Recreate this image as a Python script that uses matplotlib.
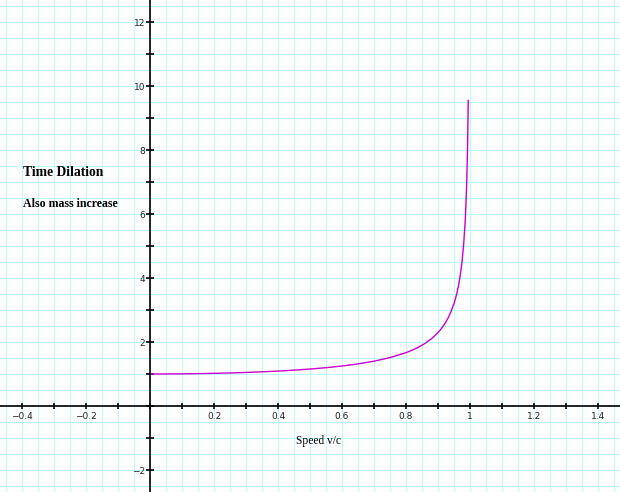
import matplotlib
matplotlib.use("Agg")
import matplotlib.pyplot as plt
from matplotlib.ticker import MultipleLocator, FuncFormatter

# Data: speed v/c and Lorentz factor
speed = [0.0, 0.05, 0.1, 0.15, 0.2, 0.25, 0.3, 0.35, 0.4, 0.45, 0.5, 0.55,
         0.6, 0.65, 0.7, 0.75, 0.8, 0.82, 0.84, 0.86, 0.88, 0.9, 0.91, 0.92,
         0.93, 0.94, 0.95, 0.955, 0.96, 0.965, 0.97, 0.975, 0.98, 0.985,
         0.9875, 0.99, 0.9925, 0.9945]
gamma = [1.0, 1.001, 1.005, 1.011, 1.021, 1.033, 1.048, 1.068, 1.091, 1.12,
         1.155, 1.197, 1.25, 1.316, 1.40, 1.512, 1.667, 1.747, 1.843, 1.96,
         2.105, 2.294, 2.412, 2.552, 2.721, 2.931, 3.203, 3.371, 3.571,
         3.815, 4.113, 4.502, 5.025, 5.783, 6.344, 7.089, 8.172, 9.55]

title_text = "Time Dilation"
subtitle_text = "Also mass increase"
xlabel_text = "Speed v/c"

fig = plt.figure(figsize=(6.2, 4.92), dpi=100)
ax = fig.add_axes([0, 0, 1, 1])
ax.set_xlim(-150 / 320, 470 / 320)
ax.set_ylim(-86 / 32, 406 / 32)

# grid
for v in [i * 0.05 for i in range(-10, 31)]:
    ax.axvline(v, color="#b6fdfd", lw=0.72, zorder=0, antialiased=False)
for v in [i * 0.5 for i in range(-6, 27)]:
    ax.axhline(v, color="#b6fdfd", lw=0.72, zorder=0, antialiased=False)

ax.plot(speed, gamma, color="#cc00cc", lw=1.0, zorder=3)

for s in ["top", "right"]:
    ax.spines[s].set_visible(False)
ax.spines["left"].set_position(("data", 0))
ax.spines["bottom"].set_position(("data", 0))
for s in ["left", "bottom"]:
    ax.spines[s].set_linewidth(1.2)
    ax.spines[s].set_color("black")
    ax.spines[s].set_zorder(4)

ax.xaxis.set_major_locator(MultipleLocator(0.2))
ax.xaxis.set_minor_locator(MultipleLocator(0.1))
ax.yaxis.set_major_locator(MultipleLocator(2))
ax.yaxis.set_minor_locator(MultipleLocator(1))

def fmt_x(v, pos):
    if abs(v) < 1e-9:
        return ""
    s = f"{v:.1f}"
    if s.endswith(".0"):
        s = s[:-2]
    return s.replace("-", "\u2212")

def fmt_y(v, pos):
    if abs(v) < 1e-9:
        return ""
    return f"{int(round(v))}".replace("-", "\u2212")

ax.xaxis.set_major_formatter(FuncFormatter(fmt_x))
ax.yaxis.set_major_formatter(FuncFormatter(fmt_y))
ax.tick_params(which="both", direction="inout", length=5, width=1.2,
               color="black", labelsize=6.5, labelcolor="#222222")
ax.tick_params(axis="x", which="both", length=5, pad=1.5)
ax.tick_params(axis="y", which="both", length=6, pad=0.5)

ax.text(23 / 320 - 150 / 320, (406 - 173) / 32, title_text,
        fontfamily="Liberation Serif", fontweight="bold", fontsize=9.8,
        va="center", ha="left")
ax.text(23 / 320 - 150 / 320, (406 - 204) / 32, subtitle_text,
        fontfamily="Liberation Serif", fontweight="bold", fontsize=8.6,
        va="center", ha="left")
ax.text((319 - 150) / 320, (406 - 441) / 32, xlabel_text,
        fontfamily="Liberation Serif", fontsize=8.3,
        va="center", ha="center")

fig.savefig("out.png", dpi=100)
